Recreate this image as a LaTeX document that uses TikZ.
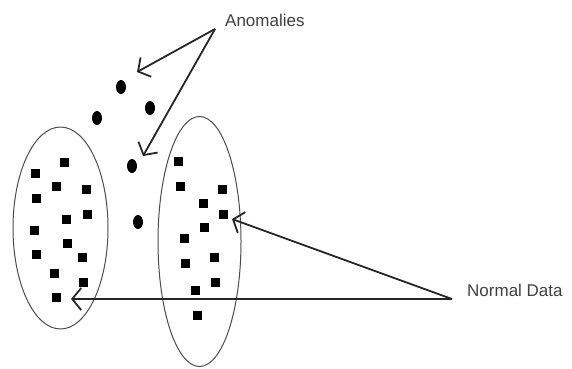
\documentclass[tikz,border=0pt]{standalone}
\usepackage{fontspec}
\setmainfont{Liberation Sans}
\usetikzlibrary{arrows.meta,shapes.geometric}
\begin{document}
\begin{tikzpicture}[x=1pt,y=-1pt,
  sq/.style={fill=black,draw=none,minimum size=9pt,inner sep=0pt,outer sep=0pt},
  dot/.style={fill=black,draw=none,ellipse,minimum width=10pt,minimum height=14pt,inner sep=0pt},
  cluster/.style={draw=black!70,line width=1pt},
  lbl/.style={font=\fontsize{17}{20}\selectfont,text=black!75,inner sep=0pt},
  pointer/.style={draw=black!85,line width=1.8pt,-{Straight Barb[length=9pt,width=22pt]}}]
\useasboundingbox[fill=white] (0,0) rectangle (572,368);
% clusters
\node[cluster,ellipse,minimum width=95pt,minimum height=202pt,inner sep=0pt] (leftcl) at (60.5,228) {};
\node[cluster,ellipse,minimum width=83pt,minimum height=250pt,inner sep=0pt] (rightcl) at (199.5,241.5) {};
% left cluster points
\foreach \x/\y [count=\i] in {64/162,35/173,56/186,86/189,36/198,87/214,66/219,34/230,67/243,36/254,82/257,54/273,83/282,56/297}
  \node[sq] (l\i) at (\x,\y) {};
% right cluster points
\foreach \x/\y [count=\i] in {178/161,180/186,222/189,203/203,223/214,204/227,184/238,214/257,185/263,215/282,195/290,197/315}
  \node[sq] (r\i) at (\x,\y) {};
% anomalies
\foreach \x/\y [count=\i] in {121/87,150/108,97/118,132/166,138/222}
  \node[dot] (a\i) at (\x,\y) {};
% labels
\node[lbl,anchor=base west] (anom) at (225,26) {Anomalies};
\node[lbl,anchor=base west] (norm) at (467,296) {Normal Data};
\coordinate (anomsrc) at (215,29);
\coordinate (normsrc) at (452,299);
\coordinate (t1) at (137,72);
\coordinate (t2) at (143,156);
\coordinate (t3) at (232,219);
\coordinate (t4) at (71,299);
\draw[pointer] (anomsrc) -- (t1);
\draw[pointer] (anomsrc) -- (t2);
\draw[pointer] (normsrc) -- (t3);
\draw[pointer] (normsrc) -- (t4);
\end{tikzpicture}
\end{document}
